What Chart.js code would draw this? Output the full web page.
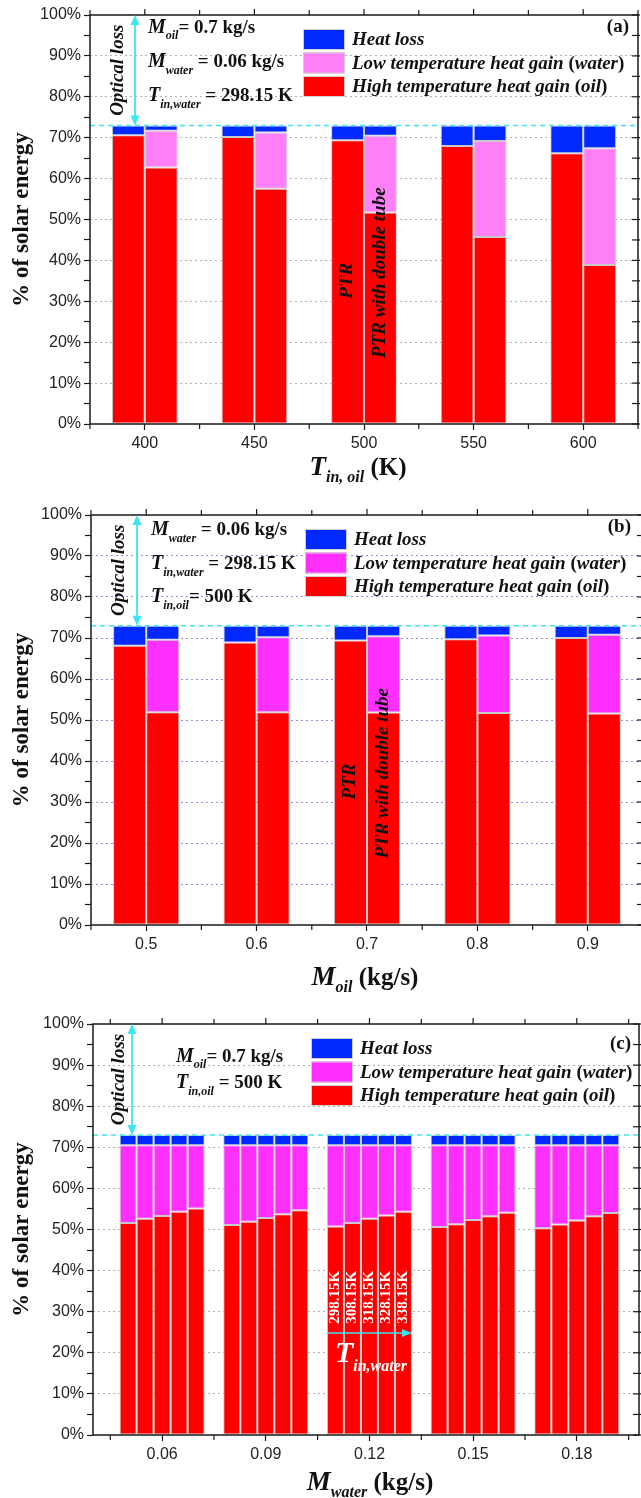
<!DOCTYPE html>
<html>
<head>
<meta charset="utf-8">
<script src="https://cdn.jsdelivr.net/npm/chart.js@4.4.0/dist/chart.umd.min.js"></script>
<style>
html,body{margin:0;padding:0;background:#fff;}
#wrap{position:relative;width:641px;height:1498px;overflow:hidden;background:#fff;}
canvas{position:absolute;left:0;}
</style>
</head>
<body>
<div id="wrap">
  <canvas id="ca" width="650" height="495" style="top:0px"></canvas>
  <canvas id="cb" width="650" height="495" style="top:500px"></canvas>
  <canvas id="cc" width="660" height="493" style="top:1005px"></canvas>
</div>
<script>
// ---------------- DATA ----------------
// Panel (a): inlet oil temperature
const tempInOil = [400, 450, 500, 550, 600];
const tempInOilLabels = ['400', '450', '500', '550', '600'];
const tempInOilMinor = [375, 425, 475, 525, 575, 625];
const a_ptrOil   = [70.6, 70.2, 69.4, 68.0, 66.2];
const a_ptrLoss  = [2.4, 2.8, 3.6, 5.0, 6.8];
const a_dtOil    = [62.7, 57.5, 51.7, 45.7, 38.9];
const a_dtWater  = [9.0, 13.8, 18.8, 23.5, 28.5];
const a_dtLoss   = [1.3, 1.7, 2.5, 3.8, 5.6];

// Panel (b): oil mass flow
const massOil = [0.5, 0.6, 0.7, 0.8, 0.9];
const massOilLabels = ['0.5', '0.6', '0.7', '0.8', '0.9'];
const massOilMinor = [0.45, 0.55, 0.65, 0.75, 0.85, 0.95];
const b_ptrOil   = [68.1, 68.9, 69.4, 69.7, 70.0];
const b_ptrLoss  = [4.9, 4.1, 3.6, 3.3, 3.0];
const b_dtOil    = [51.9, 51.9, 51.8, 51.7, 51.6];
const b_dtWater  = [17.7, 18.3, 18.6, 18.9, 19.2];
const b_dtLoss   = [3.4, 2.8, 2.6, 2.4, 2.2];

// Panel (c): water mass flow, five water inlet temperatures
const massWater = [0.06, 0.09, 0.12, 0.15, 0.18];
const massWaterLabels = ['0.06', '0.09', '0.12', '0.15', '0.18'];
const massWaterMinor = [0.045, 0.075, 0.105, 0.135, 0.165, 0.195];
const tempInWater = ['298.15K', '308.15K', '318.15K', '328.15K', '338.15K'];
const c_oil_298 = [51.6, 51.1, 50.7, 50.6, 50.3];
const c_oil_308 = [52.6, 51.9, 51.6, 51.3, 51.2];
const c_oil_318 = [53.3, 52.8, 52.6, 52.3, 52.2];
const c_oil_328 = [54.3, 53.7, 53.4, 53.2, 53.2];
const c_oil_338 = [55.1, 54.7, 54.3, 54.1, 54.0];
const c_water_298 = [18.9, 19.4, 19.8, 19.9, 20.2];
const c_water_308 = [17.9, 18.6, 18.9, 19.2, 19.3];
const c_water_318 = [17.2, 17.7, 17.9, 18.2, 18.3];
const c_water_328 = [16.2, 16.8, 17.1, 17.3, 17.3];
const c_water_338 = [15.4, 15.8, 16.2, 16.4, 16.5];
const c_loss_298 = [2.5, 2.5, 2.5, 2.5, 2.5];
const c_loss_308 = [2.5, 2.5, 2.5, 2.5, 2.5];
const c_loss_318 = [2.5, 2.5, 2.5, 2.5, 2.5];
const c_loss_328 = [2.5, 2.5, 2.5, 2.5, 2.5];
const c_loss_338 = [2.5, 2.5, 2.5, 2.5, 2.5];

const yTicks = [0, 5, 10, 15, 20, 25, 30, 35, 40, 45, 50, 55, 60, 65, 70, 75, 80, 85, 90, 95, 100];
const opticalLimit = 73;

// ---------------- STYLE ----------------
const SERIF = '"Liberation Serif","Times New Roman",serif';
const SANS = '"Liberation Sans",Arial,sans-serif';
const F = (st, sz) => `${st} ${sz}px ${SERIF}`;
const RED = '#ff0000', BLUE = '#0028ff', PINK_A = '#ff80f6', MAG = '#ff30ff', CYAN = '#3ae6f0';
const EDGE = '#c9c9c9';
Chart.defaults.font.family = SANS;

function drawRich(ctx, segs, x, y, align) {
  let w = 0;
  segs.forEach(s => { ctx.font = s.f; w += ctx.measureText(s.t).width; });
  let cx = align === 'center' ? x - w / 2 : (align === 'right' ? x - w : x);
  ctx.textAlign = 'left';
  ctx.textBaseline = 'alphabetic';
  segs.forEach(s => { ctx.font = s.f; ctx.fillText(s.t, cx, y + (s.dy || 0)); cx += ctx.measureText(s.t).width; });
  return w;
}
function rotText(ctx, t, font, x, y, color) {
  ctx.save();
  ctx.translate(x, y);
  ctx.rotate(-Math.PI / 2);
  ctx.font = font;
  ctx.fillStyle = color;
  ctx.textAlign = 'center';
  ctx.textBaseline = 'middle';
  ctx.fillText(t, 0, 0);
  ctx.restore();
}
function arrowHead(ctx, x, y, dx, dy, len, half) {
  ctx.beginPath();
  ctx.moveTo(x, y);
  ctx.lineTo(x - dx * len - dy * half, y - dy * len + dx * half);
  ctx.lineTo(x - dx * len + dy * half, y - dy * len - dx * half);
  ctx.closePath();
  ctx.fill();
}

function legendRows(pink) {
  return [
    { c: BLUE, segs: [{ t: 'Heat loss', f: F('italic bold', 19) }] },
    { c: pink, segs: [{ t: 'Low temperature heat gain ', f: F('italic bold', 19) }, { t: '(', f: F('bold', 19) }, { t: 'water', f: F('italic bold', 19) }, { t: ')', f: F('bold', 19) }] },
    { c: RED, segs: [{ t: 'High temperature heat gain ', f: F('italic bold', 19) }, { t: '(', f: F('bold', 19) }, { t: 'oil', f: F('italic bold', 19) }, { t: ')', f: F('bold', 19) }] }
  ];
}

function decoPlugin(p) {
  return {
    id: 'deco_' + p.id,
    afterDatasetsDraw(chart) {
      const ctx = chart.ctx, a = chart.chartArea;
      const xs = chart.scales.x, ys = chart.scales.y;
      ctx.save();
      const y73 = ys.getPixelForValue(opticalLimit);
      ctx.strokeStyle = CYAN; ctx.lineWidth = 1.6; ctx.setLineDash([5, 4]);
      ctx.beginPath(); ctx.moveTo(a.left, y73); ctx.lineTo(a.right, y73); ctx.stroke();
      ctx.setLineDash([]);
      // frame
      ctx.strokeStyle = '#1a1a1a'; ctx.lineWidth = 1.5;
      ctx.strokeRect(a.left, a.top, a.right - a.left, a.bottom - a.top);
      // minor x ticks (bottom), all x ticks mirrored at top, y ticks mirrored at right (inward)
      ctx.lineWidth = 1.2;
      p.xMinor.forEach(v => {
        const px = xs.getPixelForValue(v);
        ctx.beginPath(); ctx.moveTo(px, a.bottom); ctx.lineTo(px, a.bottom + 5); ctx.stroke();
        ctx.beginPath(); ctx.moveTo(px, a.top); ctx.lineTo(px, a.top - 5); ctx.stroke();
      });
      p.xVals.forEach(v => {
        const px = xs.getPixelForValue(v);
        ctx.beginPath(); ctx.moveTo(px, a.top); ctx.lineTo(px, a.top - 6); ctx.stroke();
      });
      ys.ticks.forEach(t => {
        const py = ys.getPixelForValue(t.value);
        ctx.beginPath(); ctx.moveTo(a.right - 6, py); ctx.lineTo(a.right + 2, py); ctx.stroke();
      });
      // optical loss arrow
      const ax = a.left + p.arrowDx, y100 = ys.getPixelForValue(100);
      ctx.strokeStyle = CYAN; ctx.fillStyle = CYAN; ctx.lineWidth = 1.8;
      ctx.beginPath(); ctx.moveTo(ax, y100 + 6); ctx.lineTo(ax, y73 - 6); ctx.stroke();
      arrowHead(ctx, ax, y100, 0, -1, 10, 4.5);
      arrowHead(ctx, ax, y73, 0, 1, 10, 4.5);
      rotText(ctx, 'Optical loss', F('italic bold', 19), a.left + p.optDx, (y100 + y73) / 2, '#111');
      // info text
      ctx.fillStyle = '#111';
      p.info.forEach(line => drawRich(ctx, line.segs, p.infoX, a.top + line.dy));
      // legend
      legendRows(p.pink).forEach((r, i) => {
        const by = a.top + p.legTop + i * 23.5;
        ctx.fillStyle = r.c; ctx.fillRect(p.legX, by, 42, 21);
        ctx.strokeStyle = '#cfcfcf'; ctx.lineWidth = 1; ctx.strokeRect(p.legX + 0.5, by + 0.5, 41, 20);
        ctx.fillStyle = '#111';
        drawRich(ctx, r.segs, p.legX + 49, by + 16);
      });
      ctx.fillStyle = '#111';
      drawRich(ctx, [{ t: p.tag, f: F('bold', 19) }], p.tagX, a.top + p.tagDy, 'right');
      if (p.extra) p.extra(chart, ctx);
      ctx.restore();
    },
    afterDraw(chart) {
      const ctx = chart.ctx, a = chart.chartArea;
      ctx.save();
      ctx.fillStyle = '#111';
      rotText(ctx, '% of solar energy', F('bold', 23), 22, (a.top + a.bottom) / 2, '#111');
      drawRich(ctx, p.xTitle, p.xTitleX, p.xTitleY, 'center');
      ctx.restore();
    }
  };
}

function barSet(data, xs, color, stack) {
  return {
    data: xs.map((x, i) => ({ x: x, y: data[i] })),
    backgroundColor: color, borderColor: EDGE, borderWidth: 1, borderSkipped: false,
    stack: stack, barPercentage: 1.0
  };
}

function options(p) {
  return {
    responsive: false, animation: false, events: [],
    layout: { padding: { left: 0, top: p.top, right: p.padRight, bottom: p.padBottom } },
    plugins: { legend: { display: false }, tooltip: { enabled: false } },
    datasets: { bar: { categoryPercentage: p.cat, barPercentage: 1.0 } },
    scales: {
      x: {
        type: 'linear', min: p.xMin, max: p.xMax, offset: false, stacked: true,
        afterBuildTicks: ax => { ax.ticks = p.xVals.map(v => ({ value: v })); },
        afterFit: ax => { ax.height = 32; },
        ticks: {
          autoSkip: false, maxRotation: 0, minRotation: 0, padding: 4, color: '#222',
          font: { family: SANS, size: 16 },
          callback: (v, i) => p.xLabels[i]
        },
        grid: { offset: false, drawOnChartArea: false, drawTicks: true, tickLength: 6, tickColor: '#1a1a1a', tickWidth: 1.2 },
        border: { display: false }
      },
      y: {
        min: 0, max: 100, stacked: true,
        afterBuildTicks: ax => { ax.ticks = yTicks.map(v => ({ value: v })); },
        afterFit: ax => { ax.width = p.left; },
        ticks: {
          autoSkip: false, padding: 3, color: '#222', font: { family: SANS, size: 16 },
          callback: v => (v % 10 === 0 ? v + '%' : '')
        },
        grid: {
          color: c => (c.tick && c.tick.value % 10 === 0 && c.tick.value > 0 && c.tick.value < 100 ? p.gridColor : 'rgba(0,0,0,0)'),
          lineWidth: 1, tickColor: '#1a1a1a', tickLength: 6, tickWidth: 1.2
        },
        border: { display: false, dash: [2, 3] }
      }
    }
  };
}

// ---------------- PANEL (a) ----------------
const pA = {
  id: 'a', top: 15, padRight: 12, padBottom: 495 - 424 - 32, left: 90,
  xMin: 375, xMax: 625, xMinor: tempInOilMinor, xVals: tempInOil, xLabels: tempInOilLabels,
  cat: 0.6, gridColor: '#b0b0b0', pink: PINK_A,
  arrowDx: 45, optDx: 28, infoX: 148, legX: 303, legTop: 14, tag: '(a)', tagX: 629, tagDy: 17,
  info: [
    { dy: 18, segs: [{ t: 'M', f: F('italic bold', 20) }, { t: 'oil', f: F('italic bold', 12), dy: 6 }, { t: '= 0.7 kg/s', f: F('bold', 19) }] },
    { dy: 52, segs: [{ t: 'M', f: F('italic bold', 20) }, { t: 'water', f: F('italic bold', 12), dy: 7 }, { t: ' = 0.06 kg/s', f: F('bold', 19) }] },
    { dy: 86, segs: [{ t: 'T', f: F('italic bold', 20) }, { t: 'in,water', f: F('italic bold', 12), dy: 7 }, { t: ' = 298.15 K', f: F('bold', 19) }] }
  ],
  xTitle: [{ t: 'T', f: F('italic bold', 27) }, { t: 'in, oil', f: F('italic bold', 16), dy: 7 }, { t: ' (K)', f: F('bold', 25) }],
  xTitleX: 358, xTitleY: 475,
  extra: (chart, ctx) => {
    const ys = chart.scales.y;
    const xPTR = chart.getDatasetMeta(0).data[2].x, xDT = chart.getDatasetMeta(2).data[2].x;
    rotText(ctx, 'PTR', F('italic bold', 19), xPTR, ys.getPixelForValue(35), '#111');
    rotText(ctx, 'PTR with double tube', F('italic bold', 19), xDT, ys.getPixelForValue(37), '#111');
  }
};
new Chart(document.getElementById('ca'), {
  type: 'bar',
  data: { datasets: [
    barSet(a_ptrOil, tempInOil, RED, 'PTR'),
    barSet(a_ptrLoss, tempInOil, BLUE, 'PTR'),
    barSet(a_dtOil, tempInOil, RED, 'DT'),
    barSet(a_dtWater, tempInOil, PINK_A, 'DT'),
    barSet(a_dtLoss, tempInOil, BLUE, 'DT')
  ] },
  options: options(pA),
  plugins: [decoPlugin(pA)]
});

// ---------------- PANEL (b) ----------------
const pB = {
  id: 'b', top: 15, padRight: 7, padBottom: 495 - 425 - 32, left: 91,
  xMin: 0.45, xMax: 0.95, xMinor: massOilMinor, xVals: massOil, xLabels: massOilLabels,
  cat: 0.6, gridColor: '#8f8fe0', pink: MAG,
  arrowDx: 46, optDx: 28, infoX: 151, legX: 305, legTop: 14, tag: '(b)', tagX: 631, tagDy: 17,
  info: [
    { dy: 20, segs: [{ t: 'M', f: F('italic bold', 20) }, { t: 'water', f: F('italic bold', 12), dy: 7 }, { t: ' = 0.06 kg/s', f: F('bold', 19) }] },
    { dy: 54, segs: [{ t: 'T', f: F('italic bold', 20) }, { t: 'in,water', f: F('italic bold', 12), dy: 7 }, { t: ' = 298.15 K', f: F('bold', 19) }] },
    { dy: 87, segs: [{ t: 'T', f: F('italic bold', 20) }, { t: 'in,oil', f: F('italic bold', 12), dy: 7 }, { t: '= 500 K', f: F('bold', 19) }] }
  ],
  xTitle: [{ t: 'M', f: F('italic bold', 27) }, { t: 'oil', f: F('italic bold', 16), dy: 7 }, { t: ' (kg/s)', f: F('bold', 25) }],
  xTitleX: 365, xTitleY: 485,
  extra: (chart, ctx) => {
    const ys = chart.scales.y;
    const xPTR = chart.getDatasetMeta(0).data[2].x, xDT = chart.getDatasetMeta(2).data[2].x;
    rotText(ctx, 'PTR', F('italic bold', 19), xPTR, ys.getPixelForValue(35), '#111');
    rotText(ctx, 'PTR with double tube', F('italic bold', 19), xDT, ys.getPixelForValue(37), '#111');
  }
};
new Chart(document.getElementById('cb'), {
  type: 'bar',
  data: { datasets: [
    barSet(b_ptrOil, massOil, RED, 'PTR'),
    barSet(b_ptrLoss, massOil, BLUE, 'PTR'),
    barSet(b_dtOil, massOil, RED, 'DT'),
    barSet(b_dtWater, massOil, MAG, 'DT'),
    barSet(b_dtLoss, massOil, BLUE, 'DT')
  ] },
  options: options(pB),
  plugins: [decoPlugin(pB)]
});

// ---------------- PANEL (c) ----------------
const cOil = [c_oil_298, c_oil_308, c_oil_318, c_oil_328, c_oil_338];
const cWater = [c_water_298, c_water_308, c_water_318, c_water_328, c_water_338];
const cLoss = [c_loss_298, c_loss_308, c_loss_318, c_loss_328, c_loss_338];
const cSets = [];
tempInWater.forEach((t, k) => {
  cSets.push(barSet(cOil[k], massWater, RED, t));
  cSets.push(barSet(cWater[k], massWater, MAG, t));
  cSets.push(barSet(cLoss[k], massWater, BLUE, t));
});
const pC = {
  id: 'c', top: 19, padRight: 21, padBottom: 493 - 430 - 32, left: 93,
  xMin: 0.04, xMax: 0.198, xMinor: massWaterMinor, xVals: massWater, xLabels: massWaterLabels,
  cat: 0.82, gridColor: '#b0b0b0', pink: MAG,
  arrowDx: 39, optDx: 26, infoX: 176, legX: 311, legTop: 14, tag: '(c)', tagX: 631, tagDy: 25,
  info: [
    { dy: 38, segs: [{ t: 'M', f: F('italic bold', 20) }, { t: 'oil', f: F('italic bold', 12), dy: 6 }, { t: '= 0.7 kg/s', f: F('bold', 19) }] },
    { dy: 64, segs: [{ t: 'T', f: F('italic bold', 20) }, { t: 'in,oil', f: F('italic bold', 12), dy: 7 }, { t: ' = 500 K', f: F('bold', 19) }] }
  ],
  xTitle: [{ t: 'M', f: F('italic bold', 27) }, { t: 'water', f: F('italic bold', 16), dy: 7 }, { t: ' (kg/s)', f: F('bold', 25) }],
  xTitleX: 370, xTitleY: 485,
  extra: (chart, ctx) => {
    const ys = chart.scales.y;
    const bars = tempInWater.map((t, k) => chart.getDatasetMeta(k * 3).data[2]);
    bars.forEach((b, k) => rotText(ctx, tempInWater[k], F('bold', 15), b.x, ys.getPixelForValue(33.5), '#fff'));
    const x0 = bars[0].x - bars[0].width / 2, x1 = bars[4].x + bars[4].width / 2;
    const ya = ys.getPixelForValue(24.8);
    ctx.strokeStyle = CYAN; ctx.fillStyle = CYAN; ctx.lineWidth = 1.5;
    ctx.beginPath(); ctx.moveTo(x0, ya); ctx.lineTo(x1 - 8, ya); ctx.stroke();
    arrowHead(ctx, x1, ya, 1, 0, 10, 4);
    ctx.fillStyle = '#fff';
    drawRich(ctx, [{ t: 'T', f: F('italic bold', 30) }, { t: 'in,water', f: F('italic bold', 16), dy: 9 }], x0 + 8, ys.getPixelForValue(17.8));
  }
};
new Chart(document.getElementById('cc'), {
  type: 'bar',
  data: { datasets: cSets },
  options: options(pC),
  plugins: [decoPlugin(pC)]
});
</script>
</body>
</html>
